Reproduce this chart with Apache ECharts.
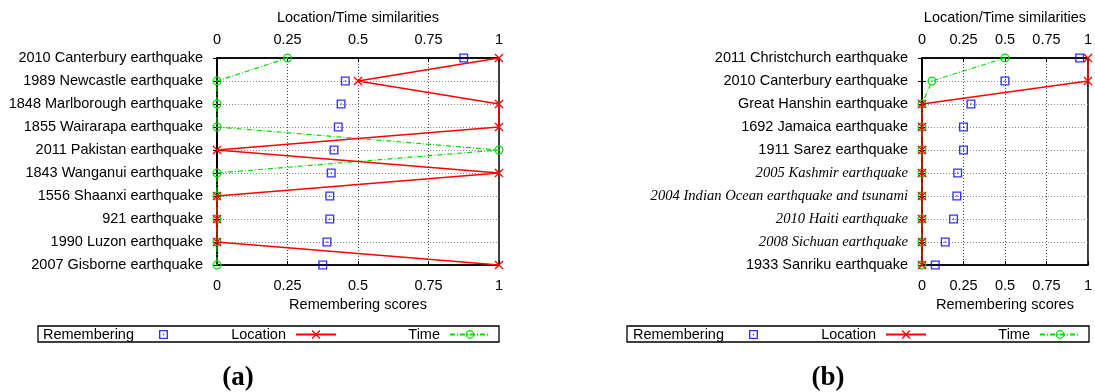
<!DOCTYPE html>
<html>
<head>
<meta charset="utf-8">
<script src="https://cdn.jsdelivr.net/npm/echarts@6/dist/echarts.min.js"></script>
<style>
  html, body { margin: 0; padding: 0; background: #fff; }
  #chart { width: 1095px; height: 392px; }
</style>
</head>
<body>
<div id="chart"></div>
<script>
// Panel (a): earthquakes ranked by remembering score
const categoriesA = [
  '2010 Canterbury earthquake', '1989 Newcastle earthquake', '1848 Marlborough earthquake',
  '1855 Wairarapa earthquake', '2011 Pakistan earthquake', '1843 Wanganui earthquake',
  '1556 Shaanxi earthquake', '921 earthquake', '1990 Luzon earthquake', '2007 Gisborne earthquake'
];
const rememberingA = [0.875, 0.455, 0.44, 0.43, 0.415, 0.405, 0.40, 0.40, 0.39, 0.375];
const locationA    = [1, 0.5, 1, 1, 0, 1, 0, 0, 0, 1];
const timeA        = [0.25, 0, 0, 0, 1, 0, 0, 0, 0, 0];

// Panel (b)
const categoriesB = [
  '2011 Christchurch earthquake', '2010 Canterbury earthquake', 'Great Hanshin earthquake',
  '1692 Jamaica earthquake', '1911 Sarez earthquake', '2005 Kashmir earthquake',
  '2004 Indian Ocean earthquake and tsunami', '2010 Haiti earthquake', '2008 Sichuan earthquake',
  '1933 Sanriku earthquake'
];
const rememberingB = [0.95, 0.50, 0.295, 0.25, 0.25, 0.215, 0.21, 0.19, 0.14, 0.08];
const locationB    = [1, 1, 0, 0, 0, 0, 0, 0, 0, 0];
const timeB        = [0.5, 0.06, 0, 0, 0, 0, 0, 0, 0, 0];

// Labels set in italic serif
const italicLabels = [
  '2005 Kashmir earthquake', '2004 Indian Ocean earthquake and tsunami',
  '2010 Haiti earthquake', '2008 Sichuan earthquake'
];

const scoreTicks = [0, 0.25, 0.5, 0.75, 1];
const seriesNames = ['Remembering', 'Location', 'Time'];

const SANS = 'Liberation Sans';
const SERIF = 'Liberation Serif';
const BLUE = '#0000ff', RED = '#ff0000', GREEN = '#00dd00';

// Point shapes: boxed dot, cross, ringed dot
const SYM_BOX = 'path://M0,0H10V10H0Z M1.5,1.5V8.5H8.5V1.5Z M4.3,4.3H5.7V5.7H4.3Z';
const SYM_CROSS = 'path://M0,1L1,0L5,4L9,0L10,1L6,5L10,9L9,10L5,6L1,10L0,9L4,5Z';
const SYM_RING = 'path://M5,0A5,5,0,1,1,5,10A5,5,0,1,1,5,0Z M5,1.4A3.6,3.6,0,1,0,5,8.6A3.6,3.6,0,1,0,5,1.4Z M4.3,4.3H5.7V5.7H4.3Z';

const grids = [
  { left: 217, top: 58, width: 282, height: 207 },
  { left: 922, top: 58, width: 167, height: 207 }
];

const textBase = { color: '#000', fontFamily: SANS, fontSize: 14.5 };

function valueAxis(gridIndex, position, name, withGrid) {
  const top = position === 'top';
  return {
    gridIndex, type: 'value', position,
    min: scoreTicks[0], max: scoreTicks[scoreTicks.length - 1],
    interval: scoreTicks[1] - scoreTicks[0],
    name, nameLocation: 'middle', nameGap: top ? 33 : 32,
    nameTextStyle: Object.assign({}, textBase),
    axisLine: { show: true, lineStyle: { color: '#000', width: 1.5 } },
    axisTick: { show: true, inside: true, length: 4, lineStyle: { color: '#000', width: 1 } },
    axisLabel: Object.assign({ margin: top ? 11 : 13, showMinLabel: true, showMaxLabel: true }, textBase),
    splitLine: {
      show: withGrid, showMinLine: false, showMaxLine: false,
      lineStyle: { color: '#444', width: 1, type: [1, 2] }
    }
  };
}

function categoryAxes(gridIndex, cats) {
  return [
    {
      gridIndex, type: 'category', data: cats, inverse: true, boundaryGap: false, position: 'left',
      axisLine: { show: true, lineStyle: { color: '#000', width: 1.5 } },
      axisTick: { show: true, length: 4, lineStyle: { color: '#000' } },
      axisLabel: Object.assign({
        margin: 14,
        interval: 0,
        formatter: v => italicLabels.indexOf(v) >= 0 ? '{it|' + v + '}' : v,
        rich: { it: { fontFamily: SERIF, fontStyle: 'italic', fontSize: 14.6, color: '#000' } }
      }, textBase),
      splitLine: {
        show: true, showMinLine: false, showMaxLine: false,
        lineStyle: { color: '#8a8a8a', width: 1, type: [1, 2] }
      }
    },
    {
      gridIndex, type: 'category', data: cats, inverse: true, boundaryGap: false, position: 'right',
      axisLine: { show: true, lineStyle: { color: '#000', width: 1.5 } },
      axisTick: { show: true, length: 4, lineStyle: { color: '#000' } },
      axisLabel: { show: false },
      splitLine: { show: false }
    }
  ];
}

function panelSeries(xb, xt, y, remembering, location, time) {
  return [
    {
      name: seriesNames[1], type: 'line', xAxisIndex: xt, yAxisIndex: y, clip: false,
      data: location.map((v, i) => [v, i]),
      symbol: SYM_CROSS, symbolSize: 9, showSymbol: true, z: 3,
      itemStyle: { color: RED, borderWidth: 0 },
      lineStyle: { color: RED, width: 1.4, type: 'solid' }
    },
    {
      name: seriesNames[2], type: 'line', xAxisIndex: xt, yAxisIndex: y, clip: false,
      data: time.map((v, i) => [v, i]),
      symbol: SYM_RING, symbolSize: 9, showSymbol: true, z: 2,
      itemStyle: { color: GREEN, borderWidth: 0 },
      lineStyle: { color: GREEN, width: 1.2, type: [5, 2, 1, 2] }
    },
    {
      name: seriesNames[0], type: 'scatter', xAxisIndex: xb, yAxisIndex: y, clip: false,
      data: remembering.map((v, i) => [v, i]),
      symbol: SYM_BOX, symbolSize: 9, z: 4,
      itemStyle: { color: BLUE, borderWidth: 0 }
    }
  ];
}

// Key entries: each sits at a fixed column, text before its sample
function keyEntry(name, rightPx, isLine) {
  return {
    data: [name], orient: 'horizontal', right: rightPx, top: 327, padding: 0,
    selectedMode: false, align: 'right',
    itemWidth: isLine ? 40 : 9, itemHeight: isLine ? 11 : 9, symbolKeepAspect: true,
    textStyle: Object.assign({ padding: [0, isLine ? 5 : 20, 0, 0] }, textBase)
  };
}

const legendRightA = [927, 758, 604];
const legendRightB = legendRightA.map(r => r - 590);

const option = {
  animation: false,
  backgroundColor: '#fff',
  grid: grids.map(g => Object.assign({ show: true, borderColor: '#000', borderWidth: 1.5, backgroundColor: 'transparent' }, g)),
  xAxis: [
    valueAxis(0, 'bottom', 'Remembering scores', true),
    valueAxis(0, 'top', 'Location/Time similarities', false),
    valueAxis(1, 'bottom', 'Remembering scores', true),
    valueAxis(1, 'top', 'Location/Time similarities', false)
  ],
  yAxis: categoryAxes(0, categoriesA).concat(categoryAxes(1, categoriesB)),
  legend: [
    keyEntry(seriesNames[0], legendRightA[0], false),
    keyEntry(seriesNames[1], legendRightA[1], true),
    keyEntry(seriesNames[2], legendRightA[2], true),
    keyEntry(seriesNames[0], legendRightB[0], false),
    keyEntry(seriesNames[1], legendRightB[1], true),
    keyEntry(seriesNames[2], legendRightB[2], true)
  ],
  series: panelSeries(0, 1, 0, rememberingA, locationA, timeA)
    .concat(panelSeries(2, 3, 2, rememberingB, locationB, timeB)),
  graphic: [
    { type: 'rect', shape: { x: 38, y: 326, width: 461, height: 16 }, style: { fill: 'none', stroke: '#000', lineWidth: 1.3 }, silent: true },
    { type: 'rect', shape: { x: 627, y: 326, width: 462, height: 16 }, style: { fill: 'none', stroke: '#000', lineWidth: 1.3 }, silent: true },
    { type: 'text', x: 238, y: 378, style: { text: '(a)', align: 'center', verticalAlign: 'middle', font: 'bold 27px "Liberation Serif"', fill: '#000' } },
    { type: 'text', x: 828, y: 378, style: { text: '(b)', align: 'center', verticalAlign: 'middle', font: 'bold 27px "Liberation Serif"', fill: '#000' } }
  ]
};

const chart = echarts.init(document.getElementById('chart'), null, { renderer: 'canvas' });
chart.setOption(option);
</script>
</body>
</html>
